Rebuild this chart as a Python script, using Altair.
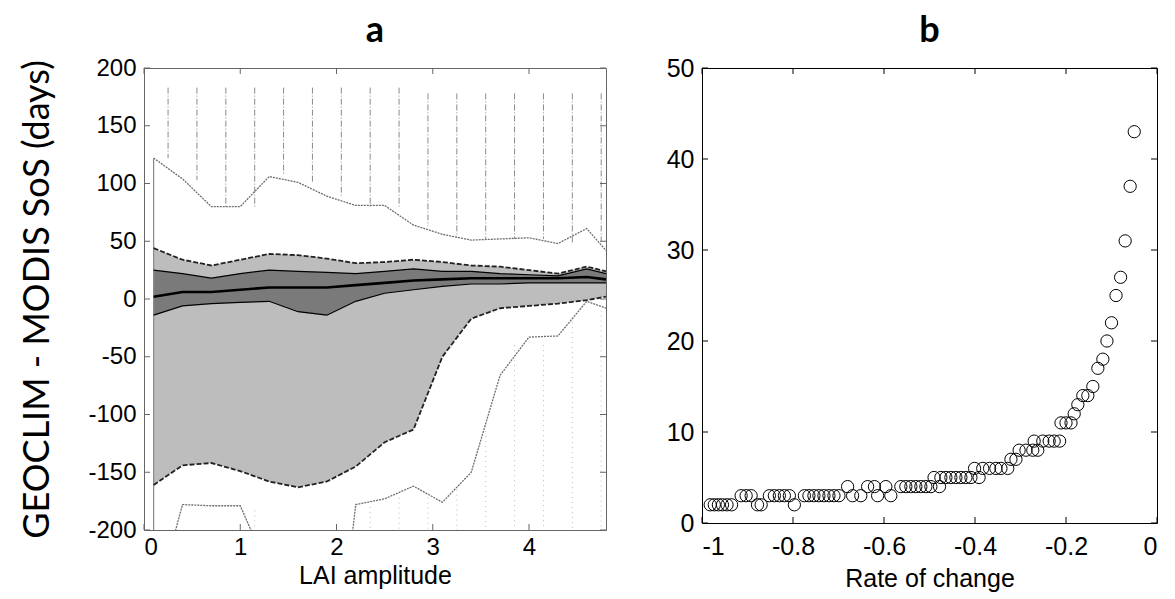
import altair as alt
import pandas as pd

# ---------------- Panel a data ----------------
LAI_X = [0.1, 0.4, 0.7, 1.0, 1.3, 1.6, 1.9, 2.2, 2.5, 2.8, 3.1, 3.4, 3.7, 4.0, 4.3, 4.6, 4.8]
P95 = [122, 104, 80, 80, 106, 101, 89, 81, 81, 64, 56, 51, 52, 53, 48, 61, 42]
Q_HI = [44, 34, 29, 34, 39, 38, 35, 31, 32, 34, 32, 29, 28, 25, 22, 28, 24]
D_HI = [25, 22, 18, 22, 25, 24, 23, 22, 24, 26, 24, 24, 22, 21, 20, 26, 22]
MED = [2, 6, 6, 8, 10, 10, 10, 12, 14, 16, 17, 18, 18, 18, 18, 19, 17]
D_LO = [-14, -6, -4, -3, -2, -11, -14, -2, 5, 8, 11, 13, 13, 14, 14, 14, 14]
Q_LO = [-161, -144, -142, -149, -158, -163, -158, -145, -124, -113, -50, -17, -8, -6, -4, -1, 2]
P5 = [-271, -178, -179, -179, -236, -320, -393, -178, -173, -162, -176, -150, -66, -33, -32, -2, -8]

COL_X = [0.25, 0.55, 0.85, 1.15, 1.45, 1.75, 2.05, 2.35, 2.65, 2.95, 3.25, 3.55, 3.85, 4.15, 4.45, 4.75]
COL_TOP = [183, 183, 183, 183, 183, 183, 183, 183, 183, 178, 178, 178, 178, 178, 178, 178]
COL_BOT = [122, 103, 80, 79, 107, 101, 89, 80, 80, 63, 55, 52, 52, 52, 48, 50]

BCOL_X = [1.15, 2.35, 2.65, 2.95, 3.25, 3.55, 3.85, 4.15, 4.45, 4.75]
BCOL_TOP = [-183, -180, -172, -172, -165, -110, -40, -40, -20, -10]
BCOL_BOT = [-200, -200, -200, -200, -200, -200, -200, -200, -200, -200]

A_XTICKS = [0, 1, 2, 3, 4]
A_YTICKS = [-200, -150, -100, -50, 0, 50, 100, 150, 200]

# ---------------- Panel b data ----------------
RATE = [-0.982, -0.973, -0.964, -0.955, -0.945, -0.935, -0.914, -0.903, -0.892, -0.878,
        -0.870, -0.852, -0.841, -0.830, -0.819, -0.808, -0.797, -0.775, -0.765, -0.754,
        -0.743, -0.732, -0.721, -0.710, -0.699, -0.680, -0.669, -0.651, -0.636, -0.621,
        -0.614, -0.596, -0.585, -0.563, -0.552, -0.541, -0.530, -0.519, -0.508, -0.497,
        -0.490, -0.478, -0.475, -0.464, -0.453, -0.442, -0.431, -0.420, -0.409, -0.401,
        -0.391, -0.383, -0.368, -0.354, -0.343, -0.328, -0.321, -0.310, -0.303, -0.288,
        -0.273, -0.270, -0.262, -0.251, -0.237, -0.226, -0.214, -0.211, -0.200, -0.189,
        -0.182, -0.174, -0.163, -0.152, -0.141, -0.130, -0.119, -0.110, -0.100, -0.090,
        -0.080, -0.070, -0.059, -0.050]
DAYS = [2, 2, 2, 2, 2, 2, 3, 3, 3, 2,
        2, 3, 3, 3, 3, 3, 2, 3, 3, 3,
        3, 3, 3, 3, 3, 4, 3, 3, 4, 4,
        3, 4, 3, 4, 4, 4, 4, 4, 4, 4,
        5, 4, 5, 5, 5, 5, 5, 5, 5, 6,
        5, 6, 6, 6, 6, 6, 7, 7, 8, 8,
        8, 9, 8, 9, 9, 9, 9, 11, 11, 11,
        12, 13, 14, 14, 15, 17, 18, 20, 22, 25,
        27, 31, 37, 43]

B_XTICKS = [-1, -0.8, -0.6, -0.4, -0.2, 0]
B_YTICKS = [0, 10, 20, 30, 40, 50]

LABEL_FONT = "Liberation Sans"
WA, HA = 462, 462
WB, HB = 455, 455
TICK = 6

# ---------------- Panel a ----------------
band = pd.DataFrame({"x": LAI_X, "p95": P95, "qhi": Q_HI, "dhi": D_HI, "med": MED,
                     "dlo": D_LO, "qlo": Q_LO, "p5": P5})
xs_a = alt.Scale(domain=[0, 4.8], nice=False, zero=False)
ys_a = alt.Scale(domain=[-200, 200], nice=False, zero=False)

x_axis_a = alt.Axis(values=A_XTICKS, ticks=False, domain=False, grid=False,
                    labelFont=LABEL_FONT, labelFontSize=24, labelPadding=5, labelColor="black",
                    labelExpr="datum.value + ''",
                    title="LAI amplitude", titleFont=LABEL_FONT, titleFontSize=25,
                    titleFontWeight="normal", titleColor="black",
                    titleBaseline="alphabetic", titleY=53)
y_axis_a = alt.Axis(values=A_YTICKS, ticks=False, domain=False, grid=False,
                    labelFont=LABEL_FONT, labelFontSize=24, labelPadding=8, labelColor="black",
                    labelExpr="datum.value + ''",
                    title="GEOCLIM - MODIS SoS (days)", titleFont="Lato", titleFontSize=36,
                    titleFontWeight="normal", titleColor="black", titleAngle=270,
                    titleBaseline="middle", titleX=-107, titleY=HA / 2)


def XA(field):
    return alt.X(field, type="quantitative", scale=xs_a, axis=x_axis_a)


def YA(field):
    return alt.Y(field, type="quantitative", scale=ys_a, axis=y_axis_a)


light = alt.Chart(band).mark_area(color="#bdbdbd", opacity=1).encode(
    x=XA("x"), y=YA("qlo"), y2="qhi:Q")
dark = alt.Chart(band).mark_area(color="#7a7a7a", opacity=1).encode(
    x=XA("x"), y=YA("dlo"), y2="dhi:Q")

cols = pd.DataFrame({"x": COL_X, "top": COL_TOP, "bot": COL_BOT})
top_cols = alt.Chart(cols).mark_rule(color="#8a8a8a", strokeWidth=1,
                                     strokeDash=[6, 2, 1, 2]).encode(
    x=XA("x"), y=YA("top"), y2="bot:Q")
bcols = pd.DataFrame({"x": BCOL_X, "top": BCOL_TOP, "bot": BCOL_BOT})
bot_cols = alt.Chart(bcols).mark_rule(color="#bbbbbb", strokeWidth=1,
                                      strokeDash=[1, 4]).encode(
    x=XA("x"), y=YA("top"), y2="bot:Q")


def line(col, color, width, dash=None):
    kw = dict(color=color, strokeWidth=width, clip=True)
    if dash:
        kw["strokeDash"] = dash
    return alt.Chart(band).mark_line(**kw).encode(x=XA("x"), y=YA(col))


outer_hi = line("p95", "#6e6e6e", 1.3, [2, 1])
outer_lo = line("p5", "#6e6e6e", 1.3, [2, 1])
closure = alt.Chart(pd.DataFrame({"x": [LAI_X[0]], "y": [A_YTICKS[0]], "y2": [P95[0]]})).mark_rule(
    color="#8a8a8a", strokeWidth=1.2).encode(x=XA("x"), y=YA("y"), y2="y2:Q")
q_hi = line("qhi", "#222222", 1.8, [5, 2])
q_lo = line("qlo", "#222222", 1.8, [5, 2])
d_hi = line("dhi", "black", 1.2)
d_lo = line("dlo", "black", 1.2)
med = line("med", "black", 2.6)

axt_a = pd.DataFrame({"t": A_XTICKS})
ayt_a = pd.DataFrame({"t": A_YTICKS})
tick_col_a = "#666666"
ticks_a = [
    alt.Chart(axt_a).mark_rule(color=tick_col_a).encode(
        x=XA("t"), y=alt.value(HA), y2=alt.value(HA - TICK)),
    alt.Chart(axt_a).mark_rule(color=tick_col_a).encode(
        x=XA("t"), y=alt.value(0), y2=alt.value(TICK)),
    alt.Chart(ayt_a).mark_rule(color=tick_col_a).encode(
        y=YA("t"), x=alt.value(0), x2=alt.value(TICK)),
    alt.Chart(ayt_a).mark_rule(color=tick_col_a).encode(
        y=YA("t"), x=alt.value(WA - TICK), x2=alt.value(WA)),
]

panel_a = alt.layer(light, dark, top_cols, bot_cols, outer_hi, outer_lo, closure,
                    q_hi, q_lo, d_hi, d_lo, med, *ticks_a).properties(
    width=WA, height=HA,
    view=alt.ViewBackground(stroke="#666666", strokeWidth=1),
    title=alt.TitleParams("a", font="Lato", fontSize=36, fontWeight="bold",
                          anchor="middle", offset=6, color="black"),
)

# ---------------- Panel b ----------------
pts = pd.DataFrame({"rate": RATE, "days": DAYS})
xs_b = alt.Scale(domain=[-1, 0], nice=False, zero=False)
ys_b = alt.Scale(domain=[0, 50], nice=False, zero=False)

x_axis_b = alt.Axis(values=B_XTICKS, ticks=False, domain=False, grid=False,
                    labelFont=LABEL_FONT, labelFontSize=25, labelPadding=11, labelColor="black",
                    labelExpr="datum.value + ''",
                    title="Rate of change", titleFont=LABEL_FONT, titleFontSize=25,
                    titleFontWeight="normal", titleColor="black",
                    titleBaseline="alphabetic", titleY=63)
y_axis_b = alt.Axis(values=B_YTICKS, ticks=False, domain=False, grid=False,
                    labelFont=LABEL_FONT, labelFontSize=25, labelPadding=8, labelColor="black",
                    labelExpr="datum.value + ''", title="")


def XB(field):
    return alt.X(field, type="quantitative", scale=xs_b, axis=x_axis_b)


def YB(field):
    return alt.Y(field, type="quantitative", scale=ys_b, axis=y_axis_b)


points = alt.Chart(pts).mark_point(shape="circle", filled=False, color="black",
                                   size=150, strokeWidth=1, opacity=1).encode(
    x=XB("rate"), y=YB("days"))
bxt = pd.DataFrame({"t": B_XTICKS})
byt = pd.DataFrame({"t": B_YTICKS})
ticks_b = [
    alt.Chart(bxt).mark_rule(color="black").encode(
        x=XB("t"), y=alt.value(HB), y2=alt.value(HB - TICK)),
    alt.Chart(bxt).mark_rule(color="black").encode(
        x=XB("t"), y=alt.value(0), y2=alt.value(TICK)),
    alt.Chart(byt).mark_rule(color="black").encode(
        y=YB("t"), x=alt.value(0), x2=alt.value(TICK)),
    alt.Chart(byt).mark_rule(color="black").encode(
        y=YB("t"), x=alt.value(WB - TICK), x2=alt.value(WB)),
]

panel_b = alt.layer(points, *ticks_b).properties(
    width=WB, height=HB,
    view=alt.ViewBackground(stroke="black", strokeWidth=1),
    title=alt.TitleParams("b", font="Lato", fontSize=36, fontWeight="bold",
                          anchor="middle", offset=6, color="black"),
)

chart = alt.hconcat(panel_a, panel_b, spacing=96, bounds="flush").properties(
    padding={"left": 10, "top": 4, "right": 0, "bottom": 0},
    background="white",
)

chart.save("out.html", embed_options={"renderer": "svg", "actions": False})
